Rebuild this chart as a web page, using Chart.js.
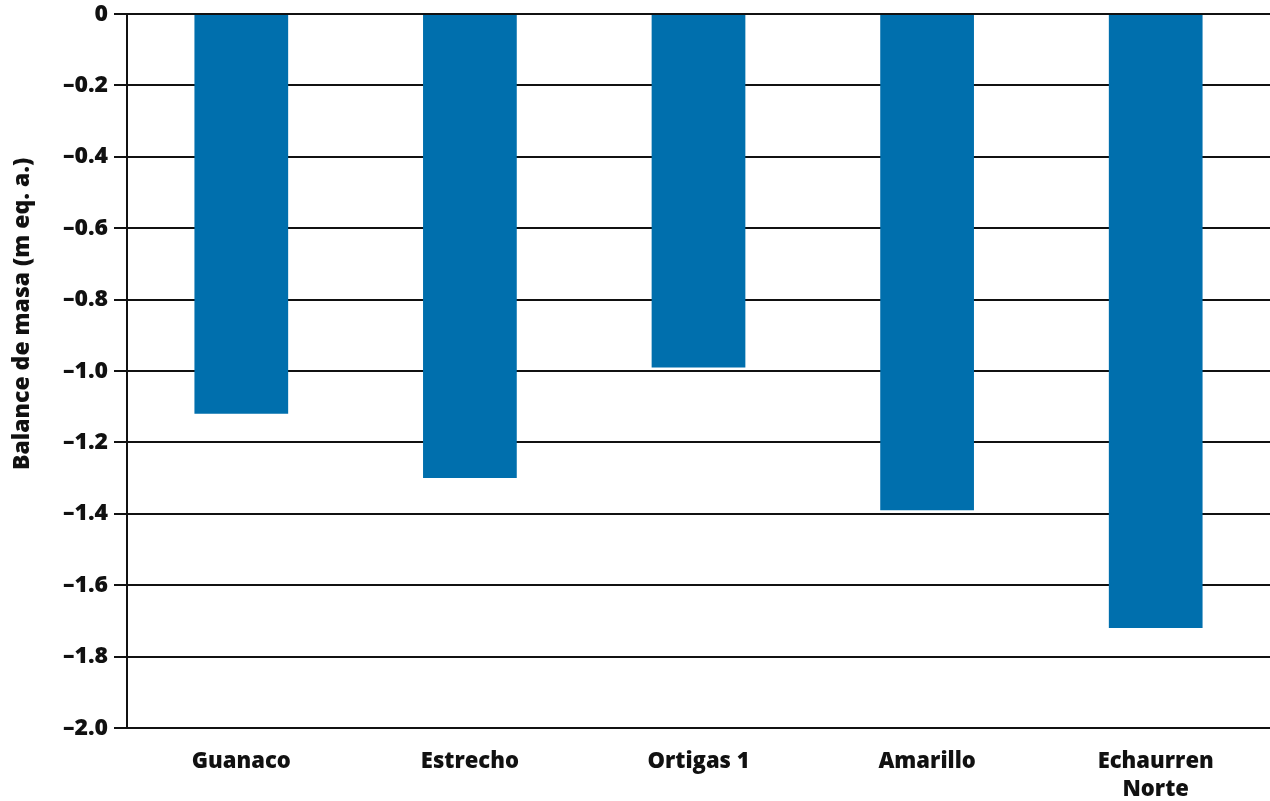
<!DOCTYPE html>
<html><head><meta charset="utf-8">
<script src="https://cdn.jsdelivr.net/npm/chart.js@4"></script>
<style>html,body{margin:0;padding:0;background:#fff}</style>
</head><body><canvas id="c" width="1270" height="801" style="display:block"></canvas>
<script>
const categories = [['Guanaco'], ['Estrecho'], ['Ortigas 1'], ['Amarillo'], ['Echaurren', 'Norte']];
const massBalance = [-1.12, -1.30, -0.99, -1.39, -1.72];
const yTicks = [0, -0.2, -0.4, -0.6, -0.8, -1.0, -1.2, -1.4, -1.6, -1.8, -2.0];
const yTitle = 'Balance de masa (m eq. a.)';

const F = 'Open Sans';
const titlePlugin = {
  id: 'ytitle',
  afterDraw(chart) {
    const ctx = chart.ctx, a = chart.chartArea;
    ctx.save();
    ctx.font = '800 23px "' + F + '"';
    ctx.fillStyle = '#111';
    ctx.textAlign = 'center';
    ctx.textBaseline = 'middle';
    ctx.translate(22, a.top + (a.bottom - a.top) * 0.42);
    ctx.rotate(-Math.PI / 2);
    ctx.fillText(yTitle, 0, 0);
    ctx.restore();
  }
};

new Chart(document.getElementById('c'), {
  type: 'bar',
  data: { labels: categories, datasets: [{ data: massBalance, backgroundColor: '#006FAD', barPercentage: 0.41, categoryPercentage: 1.0 }] },
  options: {
    responsive: false, animation: false,
    layout: { padding: { top: 0, right: 0, bottom: 0, left: 58 } },
    plugins: { legend: { display: false }, tooltip: { enabled: false } },
    scales: {
      x: {
        grid: { display: false, drawTicks: false },
        border: { display: false },
        afterFit: (s) => { s.height = 73; },
        ticks: { color: '#111', font: { family: F, weight: 800, size: 22, lineHeight: 1.25 }, padding: 20, maxRotation: 0, autoSkip: false }
      },
      y: {
        min: -2.0, max: 0,
        afterBuildTicks: (s) => { s.ticks = yTicks.map(v => ({ value: v })); },
        grid: { color: '#111', lineWidth: 2, tickLength: 13, drawTicks: true },
        border: { display: true, color: '#111', width: 2 },
        afterFit: (s) => { s.width = 69; },
        ticks: { color: '#111', font: { family: F, weight: 800, size: 23, lineHeight: 0.7 }, padding: 6,
          callback: (v) => v === 0 ? '0' : '\u2013' + Math.abs(v).toFixed(1) },
        title: { display: false }
      }
    }
  },
  plugins: [titlePlugin]
});
</script></body></html>
